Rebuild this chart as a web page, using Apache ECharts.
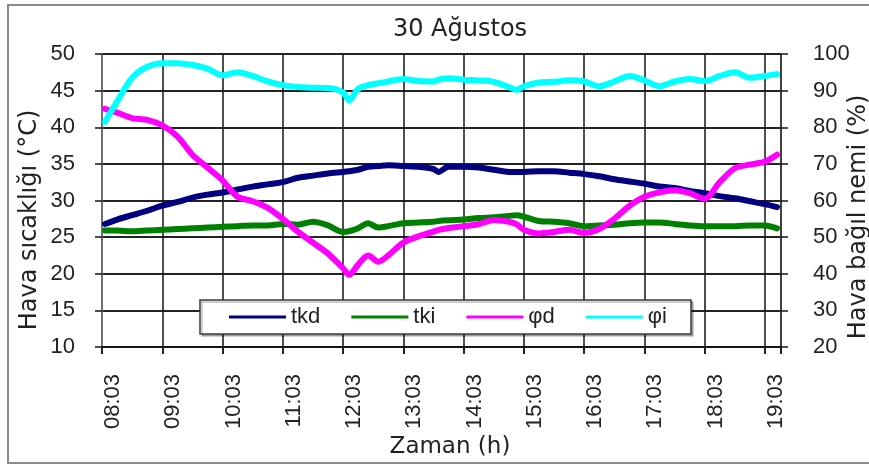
<!DOCTYPE html>
<html>
<head>
<meta charset="utf-8">
<script src="https://cdn.jsdelivr.net/npm/echarts@6/dist/echarts.min.js"></script>
<style>
  html, body { margin: 0; padding: 0; background: #fff; }
  .layer { position: absolute; left: 0; top: 0; width: 869px; height: 464px; }
  #gridLayer { z-index: 0; }
  #chart { z-index: 1; }
</style>
</head>
<body>
<div id="gridLayer" class="layer"></div>
<div id="chart" class="layer"></div>
<script>
// Hourly tick labels on the time axis
const tickLabels = ['08:03', '09:03', '10:03', '11:03', '12:03', '13:03',
                    '14:03', '15:03', '16:03', '17:03', '18:03', '19:03'];

// Measurement times
const times = ['08:06', '08:18', '08:33', '08:48', '09:03', '09:18', '09:33', '09:48',
               '10:03', '10:18', '10:33', '10:48', '11:03', '11:18', '11:33', '11:48',
               '12:03', '12:09', '12:18', '12:28', '12:38', '12:48', '13:03', '13:18',
               '13:33', '13:38', '13:48', '14:03', '14:18', '14:33', '14:48', '14:56',
               '15:03', '15:18', '15:33', '15:48', '16:03', '16:18', '16:33', '16:48',
               '17:03', '17:18', '17:33', '17:48', '18:03', '18:18', '18:33', '18:48',
               '19:03', '19:15'];

// Outdoor air temperature (°C)
const tkd = [26.8, 27.4, 28.0, 28.6, 29.3, 29.8, 30.4, 30.8,
             31.1, 31.5, 31.9, 32.2, 32.5, 33.1, 33.4, 33.7,
             33.9, 34.0, 34.2, 34.6, 34.7, 34.8, 34.7, 34.6,
             34.3, 33.9, 34.6, 34.6, 34.5, 34.2, 33.9, 33.9,
             33.9, 34.0, 34.0, 33.8, 33.6, 33.3, 32.9, 32.6,
             32.3, 31.9, 31.7, 31.3, 31.0, 30.6, 30.3, 29.9,
             29.5, 29.1];

// Indoor air temperature (°C)
const tki = [25.9, 25.9, 25.8, 25.9, 26.0, 26.1, 26.2, 26.3,
             26.4, 26.5, 26.6, 26.6, 26.8, 26.7, 27.1, 26.6,
             25.7, 25.8, 26.2, 26.9, 26.3, 26.5, 26.9, 27.0,
             27.1, 27.2, 27.3, 27.4, 27.6, 27.7, 27.9, 28.0,
             27.8, 27.2, 27.1, 26.9, 26.5, 26.6, 26.7, 26.9,
             27.0, 27.0, 26.8, 26.6, 26.5, 26.5, 26.5, 26.6,
             26.6, 26.2];

// Outdoor relative humidity (%)
const phiD = [85.0, 84.0, 82.5, 82.0, 80.5, 77.5, 72.5, 69.0,
              65.5, 61.0, 59.8, 58.0, 55.0, 51.5, 48.5, 45.5,
              41.5, 39.7, 42.5, 45.0, 43.3, 45.0, 48.5, 50.2,
              51.5, 52.0, 52.5, 53.0, 53.5, 54.7, 54.2, 53.5,
              52.0, 51.0, 51.4, 52.0, 51.2, 52.2, 55.0, 58.5,
              61.0, 62.2, 62.8, 62.0, 60.5, 65.0, 68.8, 69.8,
              70.6, 72.5];

// Indoor relative humidity (%)
const phiI = [81.5, 87.0, 93.5, 96.5, 97.5, 97.5, 97.0, 96.0,
              94.2, 95.0, 94.0, 92.5, 91.5, 91.0, 90.8, 90.7,
              89.5, 87.3, 90.5, 91.5, 92.0, 92.5, 93.2, 92.6,
              92.5, 93.0, 93.4, 93.0, 92.8, 92.4, 91.0, 90.2,
              91.2, 92.2, 92.4, 92.8, 92.5, 91.2, 92.5, 94.0,
              92.8, 91.2, 92.5, 93.2, 92.6, 94.0, 95.0, 93.5,
              94.0, 94.5];

function toMinutes(s) {
  const p = s.split(':').map(Number);
  return p[0] * 60 + p[1];
}
const t0 = toMinutes(tickLabels[0]);
function pairs(values) {
  return times.map((t, i) => [toMinutes(t) - t0, values[i]]);
}

const TICK_FONT = 'Liberation Sans, Arial, sans-serif';
const NAME_FONT = 'DejaVu Sans, sans-serif';
const GRID_COLOR = '#141414';
const T_MIN = 10, T_MAX = 50;
const X_MAX = 676;   // right edge of the time axis, minutes after the first tick
const GRID = { left: 102, right: 88, top: 54, bottom: 117 };

// Background layer: the plot grid (hour and value gridlines)
const gridChart = echarts.init(document.getElementById('gridLayer'));
gridChart.setOption({
  animation: false,
  grid: GRID,
  xAxis: {
    type: 'value', min: 0, max: X_MAX, interval: 60,
    axisLine: { show: true, lineStyle: { color: GRID_COLOR, width: 1.5 } },
    axisTick: { show: true, length: 7, lineStyle: { color: GRID_COLOR, width: 1.5 } },
    axisLabel: { show: false },
    splitLine: { show: true, lineStyle: { color: GRID_COLOR, width: 1.5 } }
  },
  yAxis: {
    type: 'value', min: T_MIN, max: T_MAX, interval: 5,
    axisLine: { show: false },
    axisTick: { show: false },
    axisLabel: { show: false },
    splitLine: { show: true, lineStyle: { color: GRID_COLOR, width: 1.5 } }
  },
  series: [{ type: 'line', data: [] }]
});

// Foreground layer: series, axes, labels, legend and titles
const chart = echarts.init(document.getElementById('chart'));

function lineSeries(name, values, color, yIndex) {
  return {
    name: name,
    type: 'line',
    yAxisIndex: yIndex,
    data: pairs(values),
    showSymbol: false,
    symbol: 'none',
    smooth: 0.3,
    lineStyle: { color: color, width: 6, cap: 'round', join: 'round' },
    itemStyle: { color: color },
    emphasis: { disabled: true },
    z: 3
  };
}

chart.setOption({
  animation: false,
  backgroundColor: 'transparent',
  title: {
    text: '30 Ağustos',
    left: 455,
    top: 13,
    textAlign: 'center',
    textStyle: { fontFamily: NAME_FONT, fontSize: 24, fontWeight: 'normal', color: '#222' }
  },
  grid: GRID,
  legend: {
    left: 200,
    top: 300,
    orient: 'horizontal',
    padding: [6, 24, 6, 29],
    itemGap: 31,
    itemWidth: 57,
    itemHeight: 3,
    icon: 'rect',
    backgroundColor: '#ffffff',
    borderColor: '#3a3a3a',
    borderWidth: 1.5,
    shadowColor: 'rgba(0,0,0,0.25)',
    shadowOffsetX: 2,
    shadowOffsetY: 2,
    textStyle: { fontFamily: TICK_FONT, fontSize: 22, color: '#222' },
    data: ['tkd', 'tki', 'φd', 'φi']
  },
  xAxis: {
    type: 'value',
    min: 0,
    max: X_MAX,
    interval: 60,
    axisLine: { show: true, lineStyle: { color: GRID_COLOR, width: 1.5 } },
    axisTick: { show: true, length: 7, lineStyle: { color: GRID_COLOR, width: 1.5 } },
    splitLine: { show: false },
    axisLabel: {
      rotate: 90,
      margin: 27,
      verticalAlign: 'top',
      fontFamily: TICK_FONT,
      fontSize: 22,
      color: '#222',
      formatter: function (v) {
        return v % 60 === 0 && tickLabels[v / 60] ? tickLabels[v / 60] : '';
      }
    }
  },
  yAxis: [
    {
      type: 'value',
      min: T_MIN,
      max: T_MAX,
      interval: 5,
      position: 'left',
      axisLine: { show: true, lineStyle: { color: '#7a7a7a', width: 1.5 } },
      axisTick: { show: true, length: 7, lineStyle: { color: GRID_COLOR, width: 1.5 } },
      splitLine: { show: true, lineStyle: { color: GRID_COLOR, width: 1.5 } },
      axisLabel: { margin: 27, padding: [5, 0, 0, 0], fontFamily: TICK_FONT, fontSize: 22, color: '#222' }
    },
    {
      type: 'value',
      min: 20,
      max: 100,
      interval: 10,
      position: 'right',
      axisLine: { show: true, lineStyle: { color: '#3a3a3a', width: 1.5 } },
      axisTick: { show: true, length: 7, lineStyle: { color: GRID_COLOR, width: 1.5 } },
      splitLine: { show: false },
      axisLabel: { margin: 32, fontFamily: TICK_FONT, fontSize: 22, color: '#222' }
    }
  ],
  graphic: [
    {
      type: 'rect',
      shape: { x: 8, y: 5, width: 872, height: 458 },
      style: { fill: 'none', stroke: '#8a8a8a', lineWidth: 2 },
      silent: true,
      z: -10
    },
    {
      type: 'text',
      x: 30, y: 220,
      rotation: Math.PI / 2,
      style: { text: 'Hava sıcaklığı (°C)', font: '24px ' + NAME_FONT, fill: '#222',
               align: 'center', verticalAlign: 'middle' }
    },
    {
      type: 'text',
      x: 859, y: 217,
      rotation: Math.PI / 2,
      style: { text: 'Hava bağıl nemi (%)', font: '24px ' + NAME_FONT, fill: '#222',
               align: 'center', verticalAlign: 'middle' }
    },
    {
      type: 'text',
      x: 450, y: 447,
      style: { text: 'Zaman (h)', font: '23px ' + NAME_FONT, fill: '#222',
               align: 'center', verticalAlign: 'middle' }
    }
  ],
  series: [
    lineSeries('tkd', tkd, '#000080', 0),
    lineSeries('tki', tki, '#008000', 0),
    lineSeries('φd', phiD, '#ff00ff', 1),
    lineSeries('φi', phiI, '#00ffff', 1)
  ]
});
</script>
</body>
</html>
